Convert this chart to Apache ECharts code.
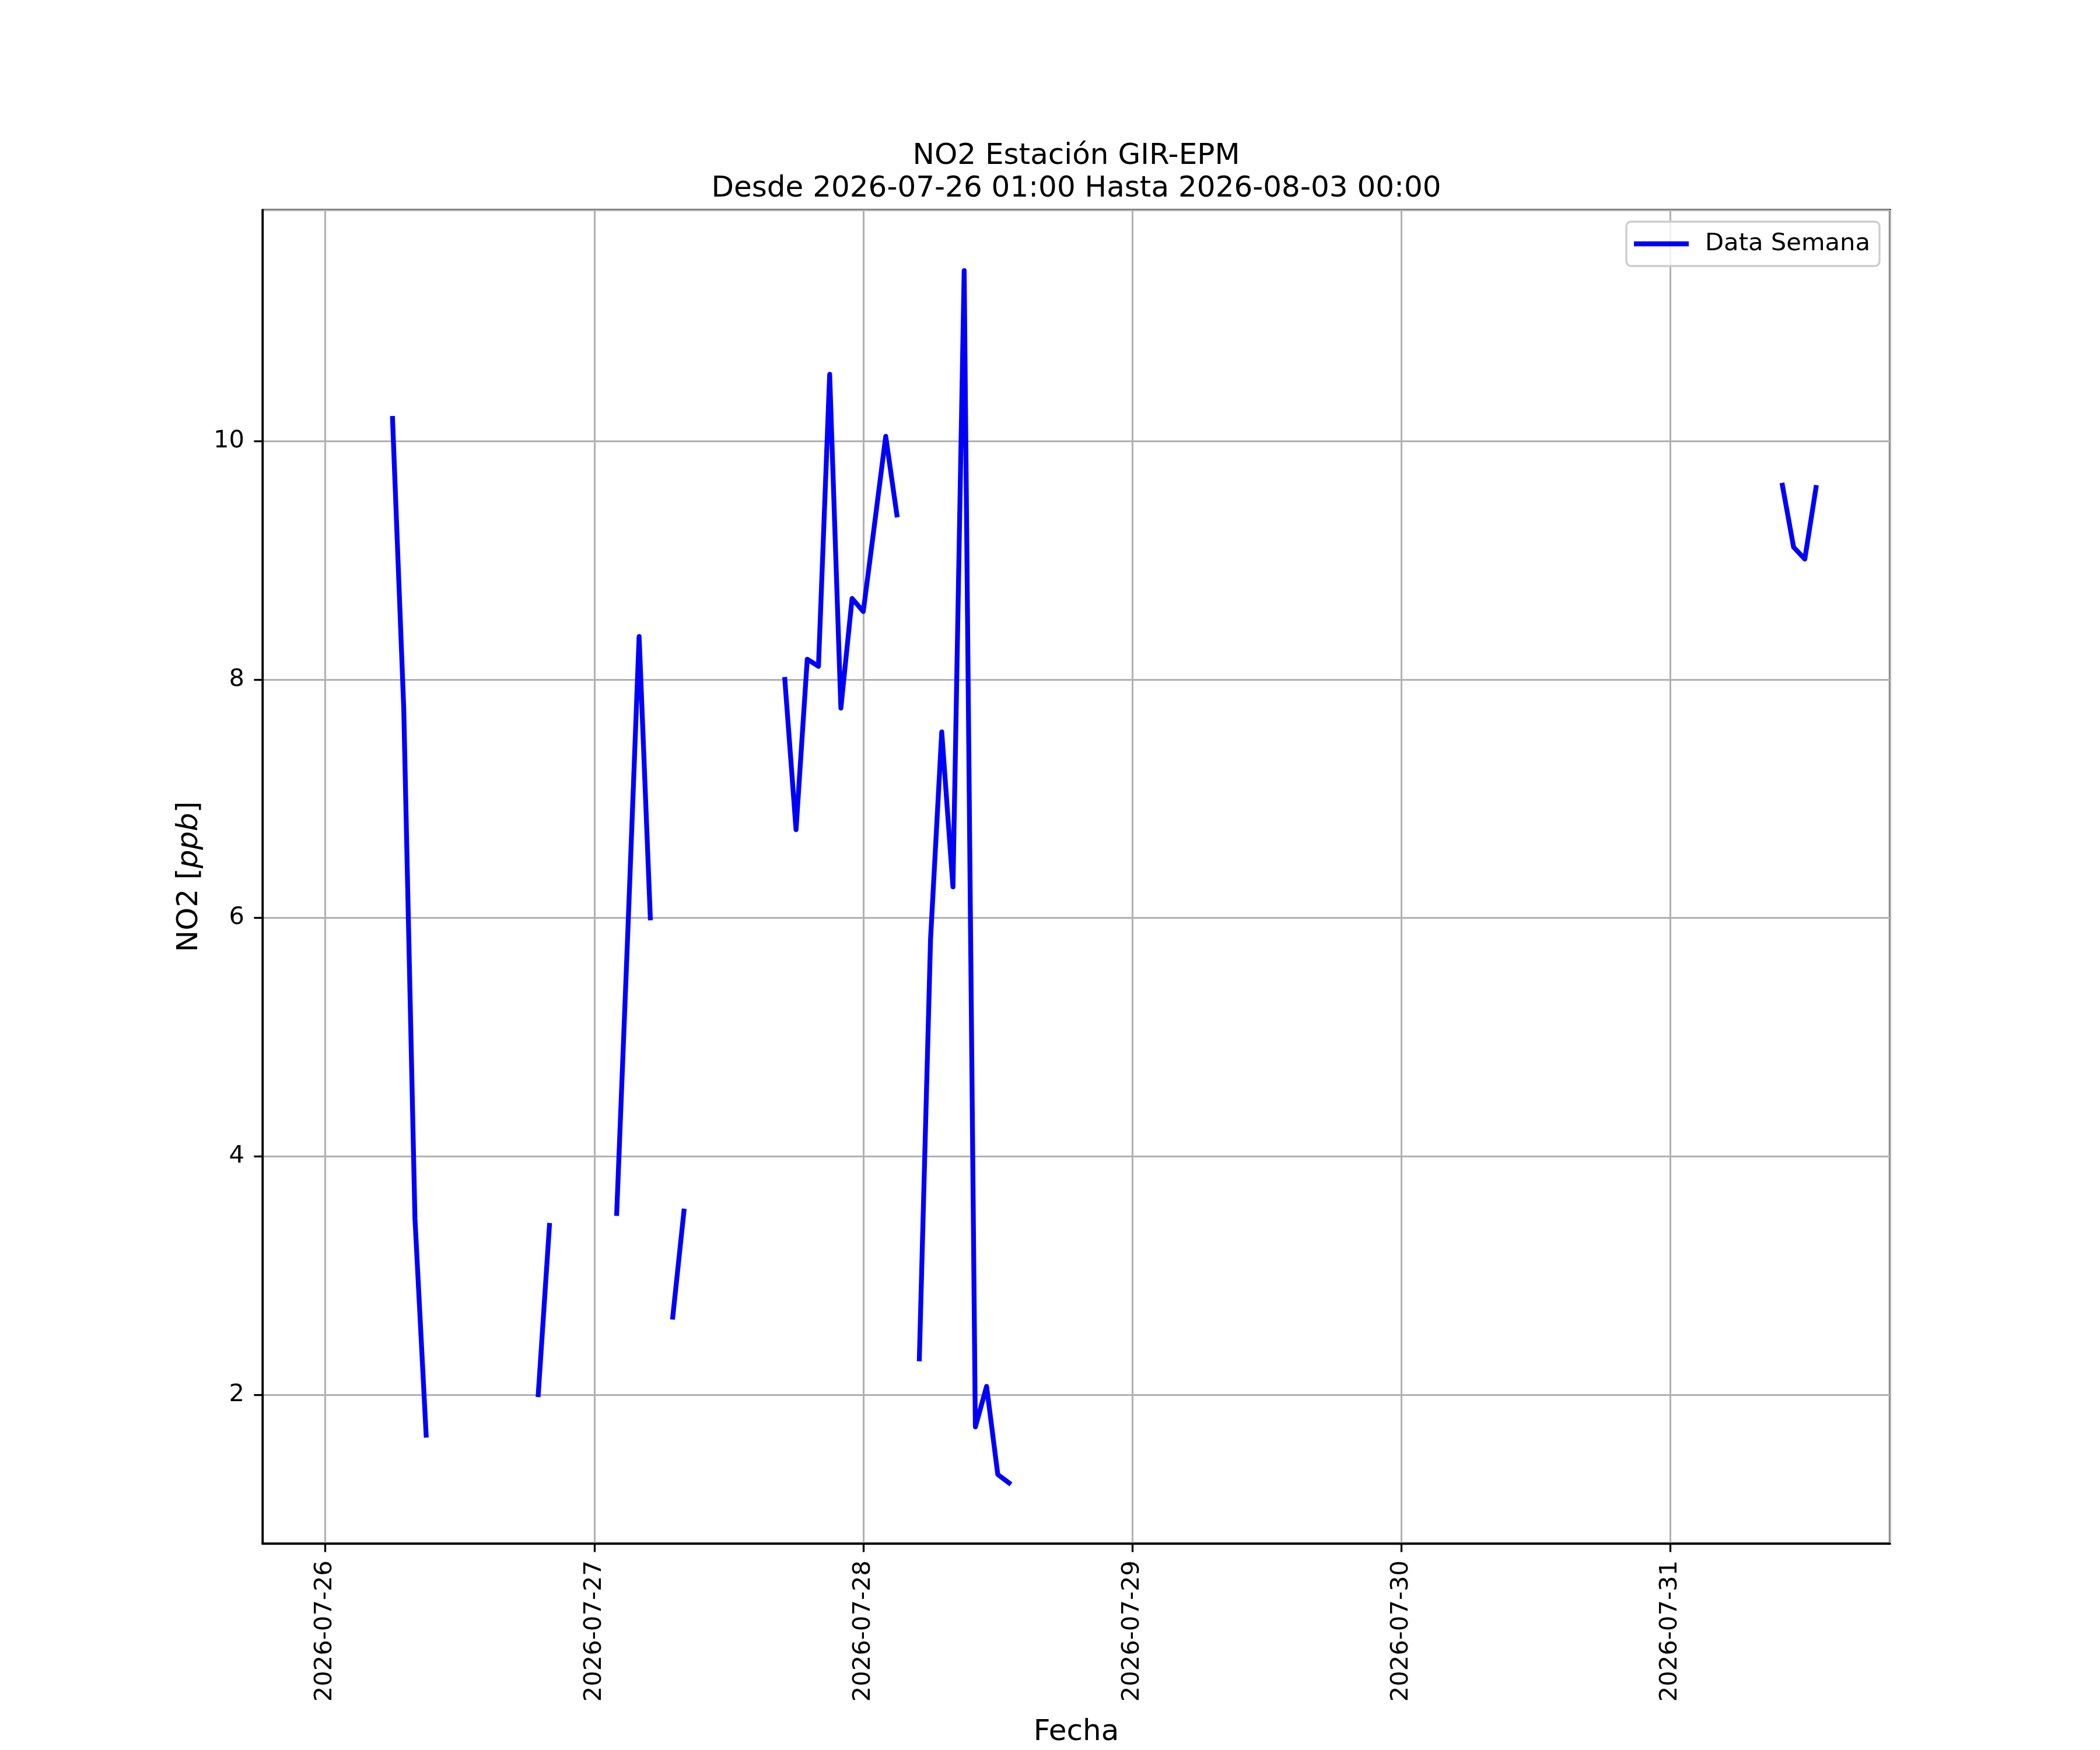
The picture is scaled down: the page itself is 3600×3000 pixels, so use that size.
<!DOCTYPE html>
<html>
<head>
<meta charset="utf-8">
<title>NO2 Estación GIR-EPM</title>
<script src="https://cdn.jsdelivr.net/npm/echarts@6/dist/echarts.min.js"></script>
<style>
	body { margin: 0; background: #fff; }
	#chart { width: 3600px; height: 3000px; }
</style>
</head>
<body>
<div id="chart"></div>
<script>
// first and last timestamp of the weekly record (hourly, NaN hours left as gaps)
var recordStart = '2026-07-26 01:00';
var recordEnd = '2026-07-31 13:00';

// each run of consecutive hourly readings: start hour and values [ppb]
var segStart = [
	'2026-07-26 06:00',
	'2026-07-26 19:00',
	'2026-07-27 02:00',
	'2026-07-27 07:00',
	'2026-07-27 17:00',
	'2026-07-28 05:00',
	'2026-07-31 10:00'
];
var segValues = [
	[10.19, 7.76, 3.48, 1.66],
	[2.00, 3.42],
	[3.52, 5.90, 8.36, 6.00],
	[2.65, 3.54],
	[8.00, 6.74, 8.17, 8.11, 10.56, 7.76, 8.68, 8.57, 9.30, 10.04, 9.38],
	[2.30, 5.82, 7.56, 6.26, 11.43, 1.73, 2.07, 1.33, 1.26],
	[9.63, 9.11, 9.01, 9.61]
];

var HOUR = 3600 * 1000;
var DAY = 24 * HOUR;

function toTime(s) {
	var p = s.split(/[- :]/).map(Number);
	return new Date(p[0], p[1] - 1, p[2], p[3], p[4]).getTime();
}

// one series, null between runs so the line breaks like the NaN gaps
var data = [[toTime(recordStart), null]];
var allValues = [];
for (let i = 0; i < segStart.length; i++) {
	var t0 = toTime(segStart[i]);
	for (let j = 0; j < segValues[i].length; j++) {
		data.push([t0 + j * HOUR, segValues[i][j]]);
		allValues.push(segValues[i][j]);
	}
	if (i < segStart.length - 1) {
		data.push([t0 + segValues[i].length * HOUR, null]);
	}
}

// 5% margins like the original plot
var xSpan = toTime(recordEnd) - toTime(recordStart);
var xMin = toTime(recordStart) - 0.05 * xSpan;
var xMax = toTime(recordEnd) + 0.05 * xSpan;
var vMin = Math.min.apply(null, allValues);
var vMax = Math.max.apply(null, allValues);
var yMin = vMin - 0.05 * (vMax - vMin);
var yMax = vMax + 0.05 * (vMax - vMin);

var font = 'DejaVu Sans';
var gridColor = '#b0b0b0';
var lineColor = '#0000ff';

var chartDom = document.getElementById('chart');
var myChart = echarts.init(chartDom, null, {renderer: 'canvas'});
var option;

option = {
	backgroundColor: '#ffffff',
	animation: false,
	title: {
		text: 'NO2 Estación GIR-EPM\nDesde 2026-07-26 01:00 Hasta 2026-08-03 00:00',
		left: 1845,
		top: 240,
		padding: 0,
		textAlign: 'center',
		textStyle: {
			fontFamily: font,
			fontSize: 50,
			fontWeight: 'normal',
			color: '#000',
			lineHeight: 56
		}
	},
	legend: {
		left: 2788,
		top: 380,
		orient: 'vertical',
		padding: [17, 16, 17, 13],
		itemWidth: 94,
		itemHeight: 8.3,
		icon: 'rect',
		itemStyle: {color: lineColor},
		backgroundColor: 'rgba(255,255,255,0.8)',
		borderColor: '#cccccc',
		borderWidth: 3.3,
		borderRadius: 8,
		textStyle: {
			fontFamily: font,
			fontSize: 41.7,
			color: '#000',
			padding: [0, 0, 0, 23]
		},
		data: ['Data Semana']
	},
	grid: {
		left: 450,
		top: 360,
		width: 2790,
		height: 2310,
		show: true,
		borderColor: '#000',
		borderWidth: 3.3,
		containLabel: false
	},
	xAxis: {
		type: 'time',
		min: xMin,
		max: xMax,
		minInterval: DAY,
		maxInterval: DAY,
		name: 'Fecha',
		nameLocation: 'middle',
		nameGap: 299,
		nameTextStyle: {fontFamily: font, fontSize: 50, color: '#000'},
		axisLine: {show: true, lineStyle: {color: '#000', width: 3.3}},
		axisTick: {show: true, length: 14.6, lineStyle: {color: '#000', width: 3.3}},
		axisLabel: {
			rotate: 90,
			margin: 29,
			fontFamily: font,
			fontSize: 41.7,
			color: '#000',
			formatter: '{yyyy}-{MM}-{dd}'
		},
		splitLine: {show: true, lineStyle: {color: gridColor, width: 3}}
	},
	yAxis: {
		type: 'value',
		min: yMin,
		max: yMax,
		splitNumber: 5,
		name: 'NO2 [{i|ppb}]',
		nameLocation: 'middle',
		nameGap: 100,
		nameRotate: 90,
		nameTextStyle: {
			fontFamily: font,
			fontSize: 50,
			color: '#000',
			rich: {i: {fontFamily: font, fontSize: 50, fontStyle: 'italic', color: '#000'}}
		},
		axisLine: {show: true, lineStyle: {color: '#000', width: 3.3}},
		axisTick: {show: true, length: 14.6, lineStyle: {color: '#000', width: 3.3}},
		axisLabel: {
			margin: 31,
			fontFamily: font,
			fontSize: 41.7,
			color: '#000',
			showMinLabel: false,
			showMaxLabel: false
		},
		splitLine: {show: true, lineStyle: {color: gridColor, width: 3}}
	},
	series: [
		{
			name: 'Data Semana',
			type: 'line',
			data: data,
			symbol: 'none',
			showSymbol: false,
			connectNulls: false,
			lineStyle: {color: lineColor, width: 8.3, join: 'round', cap: 'square'},
			itemStyle: {color: lineColor}
		}
	]
};

option && myChart.setOption(option);
</script>
</body>
</html>
